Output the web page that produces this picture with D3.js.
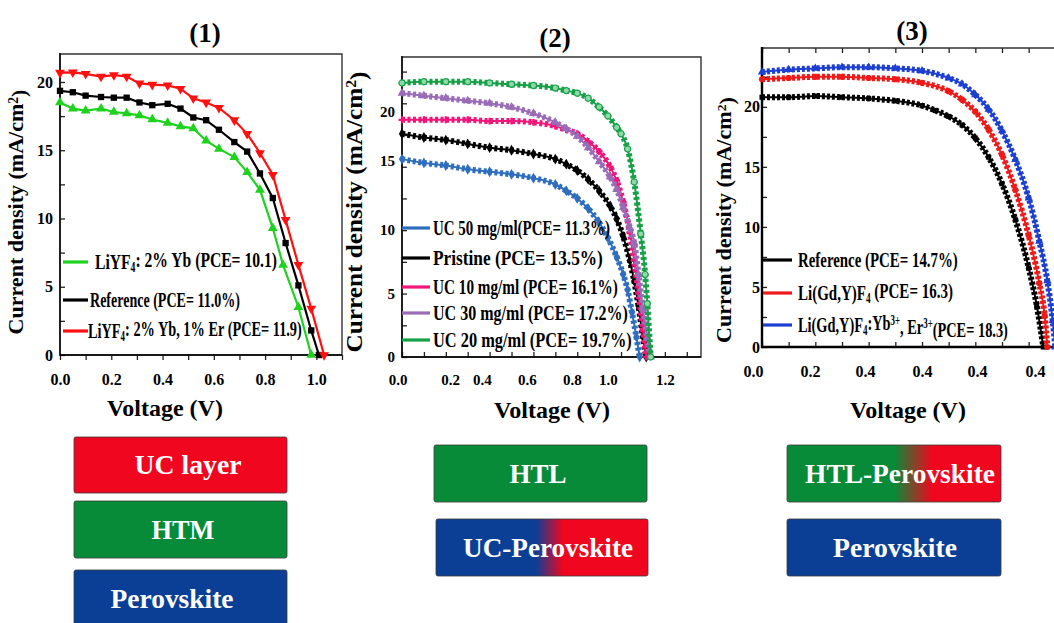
<!DOCTYPE html>
<html>
<head>
<meta charset="utf-8">
<style>
body { margin: 0; background: #fff; }
svg { display: block; }
svg text { font-family: "Liberation Serif", "Times New Roman", serif; font-weight: bold; }
</style>
</head>
<body>
<svg width="1054" height="623"></svg>
<script src="https://d3js.org/d3.v7.min.js"></script>
<script>

// ---------------- data (voltage V, current density mA/cm2) ----------------

// panel (1)
var p1Names = ["LiYF_{4}: 2% Yb (PCE= 10.1)", "Reference (PCE= 11.0%)", "LiYF_{4}: 2% Yb, 1% Er (PCE= 11.9)"];
var p1Yb = [[0,18.5],[0.05,18.05],[0.1,17.9],[0.16,18.05],[0.21,17.8],[0.26,17.7],[0.31,17.55],[0.36,17.25],[0.42,17.0],[0.47,16.75],[0.52,16.6],[0.57,15.7],[0.62,15.1],[0.68,14.5],[0.73,13.4],[0.78,12.1],[0.83,9.3],[0.87,6.6],[0.93,3.5],[0.98,0]];
var p1Ref = [[0,19.35],[0.05,19.25],[0.1,19.0],[0.16,18.9],[0.21,18.85],[0.26,18.85],[0.31,18.5],[0.36,18.3],[0.42,18.4],[0.47,18.05],[0.52,17.4],[0.57,17.2],[0.62,16.5],[0.68,15.6],[0.73,14.9],[0.78,13.3],[0.83,11.5],[0.88,8.2],[0.93,5.1],[0.98,1.8],[1.01,0]];
var p1YbEr = [[0,20.68],[0.05,20.7],[0.1,20.6],[0.16,20.4],[0.21,20.5],[0.26,20.4],[0.31,19.9],[0.36,19.8],[0.42,19.75],[0.47,19.5],[0.52,18.8],[0.57,18.5],[0.62,18.1],[0.68,17.2],[0.73,16.2],[0.78,14.8],[0.83,13.2],[0.88,9.9],[0.93,6.6],[0.98,3.4],[1.03,0]];
var p1XTicks = [0, 0.2, 0.4, 0.6, 0.8, 1.0];
var p1XLabels = ["0.0", "0.2", "0.4", "0.6", "0.8", "1.0"];
var p1YTicks = [0, 5, 10, 15, 20];
var p1YLabels = ["0", "5", "10", "15", "20"];

// panel (2)
var p2Names = ["UC 50 mg/ml(PCE= 11.3%)", "Pristine (PCE= 13.5%)", "UC 10 mg/ml (PCE= 16.1%)", "UC 30 mg/ml (PCE= 17.2%)", "UC 20 mg/ml (PCE= 19.7%)"];
var p2UC50 = [[0,15.6],[0.1,15.3],[0.2,15.1],[0.3,14.8],[0.4,14.6],[0.5,14.4],[0.6,14.1],[0.7,13.6],[0.75,13.1],[0.8,12.5],[0.85,11.7],[0.9,10.6],[0.94,9.4],[0.98,7.9],[1.01,6.5],[1.03,5.3],[1.05,3.5],[1.07,1.6],[1.085,0]];
var p2Pristine = [[0,17.6],[0.1,17.3],[0.2,17.1],[0.3,16.8],[0.4,16.5],[0.5,16.3],[0.6,16.0],[0.7,15.6],[0.75,15.2],[0.8,14.7],[0.85,14.0],[0.9,13.1],[0.95,11.9],[0.98,10.9],[1.01,9.5],[1.04,7.6],[1.06,6.0],[1.08,4.0],[1.1,1.6],[1.115,0]];
var p2UC10 = [[0,18.7],[0.1,18.7],[0.2,18.7],[0.3,18.7],[0.4,18.6],[0.5,18.6],[0.6,18.5],[0.7,18.2],[0.75,17.9],[0.8,17.6],[0.85,17.0],[0.9,16.2],[0.95,15.0],[0.98,13.9],[1.01,12.2],[1.04,9.8],[1.06,7.6],[1.08,5.0],[1.1,2.2],[1.115,0]];
var p2UC30 = [[0,20.8],[0.1,20.6],[0.2,20.4],[0.3,20.2],[0.4,20.0],[0.5,19.7],[0.6,19.2],[0.7,18.5],[0.75,18.0],[0.8,17.4],[0.85,16.5],[0.9,15.4],[0.95,14.2],[0.98,13.2],[1.01,11.8],[1.04,10.2],[1.06,9.0],[1.08,6.5],[1.1,3.8],[1.12,1.5],[1.135,0]];
var p2UC20 = [[0,21.6],[0.1,21.7],[0.2,21.7],[0.3,21.7],[0.4,21.6],[0.5,21.5],[0.6,21.4],[0.7,21.2],[0.75,21.0],[0.8,20.8],[0.85,20.4],[0.9,19.7],[0.94,19.0],[0.98,18.1],[1.0,17.6],[1.03,16.4],[1.06,13.8],[1.09,9.7],[1.11,6.5],[1.12,4.2],[1.135,0]];
// the printed tick labels in this panel do not sit at even steps
var p2XTicks = [-0.02, 0.22, 0.365, 0.57, 0.775, 0.94, 1.2];
var p2XLabels = ["0.0", "0.2", "0.4", "0.6", "0.8", "1.0", "1.2"];
var p2YTicks = [0, 5, 10, 15.5, 19.3];
var p2YLabels = ["0", "5", "10", "15", "20"];

// panel (3)
var p3Names = ["Reference (PCE= 14.7%)", "Li(Gd,Y)F_{4} (PCE= 16.3)", "Li(Gd,Y)F_{4}:Yb^{3+}, Er^{3+}(PCE= 18.3)"];
var p3Ref = [[0,20.8],[0.1,20.8],[0.2,20.9],[0.3,20.8],[0.4,20.7],[0.5,20.5],[0.6,20.1],[0.65,19.7],[0.7,19.2],[0.75,18.5],[0.8,17.4],[0.85,15.8],[0.9,13.6],[0.95,10.6],[1.0,6.6],[1.03,3.5],[1.055,0]];
var p3LGYF = [[0,22.3],[0.1,22.4],[0.2,22.5],[0.3,22.5],[0.4,22.4],[0.5,22.3],[0.6,22.0],[0.7,21.3],[0.75,20.6],[0.8,19.6],[0.85,18.1],[0.9,16.0],[0.95,13.1],[1.0,9.3],[1.04,5.3],[1.06,2.6],[1.07,0]];
var p3LGYFYbEr = [[0,22.9],[0.1,23.1],[0.2,23.2],[0.3,23.3],[0.4,23.3],[0.5,23.2],[0.6,23.0],[0.7,22.4],[0.75,21.9],[0.8,21.0],[0.85,19.8],[0.9,18.0],[0.95,15.6],[1.0,12.4],[1.04,8.8],[1.07,5.5],[1.09,2.2],[1.1,0]];
var p3XTicks = [-0.034, 0.18, 0.386, 0.6, 0.806, 1.024];
var p3XLabels = ["0.0", "0.2", "0.4", "0.4", "0.4", "0.4"];
var p3YTicks = [0, 5, 10, 15, 20];
var p3YLabels = ["0", "5", "10", "15", "20"];

// device stacks under each panel
var stackLabels = ["UC layer", "HTM", "Perovskite", "HTL", "UC-Perovskite", "HTL-Perovskite", "Perovskite"];

// ---------------- helpers ----------------
var svg = d3.select("svg");
var FONT = "'Liberation Serif', 'Times New Roman', serif";

var RED = "#f1061f", GREEN = "#078b38", BLUE = "#0b3f96";

var defs = svg.append("defs");
function grad(id, stops) {
  var lg = defs.append("linearGradient").attr("id", id).attr("x1", 0).attr("x2", 1).attr("y1", 0).attr("y2", 0);
  stops.forEach(function(s) { lg.append("stop").attr("offset", s[0]).attr("stop-color", s[1]); });
}
grad("blueRed", [[0, BLUE], [0.47, BLUE], [0.6, RED], [1, RED]]);
grad("greenRed", [[0, GREEN], [0.5, GREEN], [0.68, RED], [1, RED]]);

// write "a_{sub}" / "a^{sup}" as tspans
function rich(text, str) {
  var parts = str.split(/(_\{[^}]*\}|\^\{[^}]*\})/).filter(function(s) { return s.length; });
  var shift = 0;
  parts.forEach(function(p) {
    var t = text.append("tspan"), want = 0, s = p;
    if (p.indexOf("_{") === 0) { want = 0.22; s = p.slice(2, -1); t.attr("font-size", "62%"); }
    else if (p.indexOf("^{") === 0) { want = -0.4; s = p.slice(2, -1); t.attr("font-size", "62%"); }
    t.attr("dy", (want - shift) + "em").text(s);
    shift = want;
  });
  return text;
}

// squeeze a text horizontally so it spans the given width (condensed face in the figure)
function squeeze(text, target) {
  var w = text.node().getComputedTextLength();
  if (w > 0) text.attr("transform", (text.attr("transform") || "") + " scale(" + (target / w) + ",1)");
}

function plainAxis(a) {
  a.attr("font-family", FONT).attr("font-weight", "bold");
  a.select(".domain").remove();
}

function drawPanel(o) {
  var x = d3.scaleLinear().domain(o.xDomain).range(o.xRange);
  var y = d3.scaleLinear().domain(o.yDomain).range(o.yRange);
  var g = svg.append("g");
  var x0 = o.xRange[0], x1 = o.xRange[1], yb = o.yRange[0], yt = o.yRange[1];

  // minor tick marks
  g.append("g").attr("transform", "translate(0," + yb + ")")
    .call(d3.axisBottom(x).tickValues(o.xMinor).tickSize(o.xTickLen).tickFormat(""))
    .call(plainAxis);
  if (o.topTicks) {
    g.append("g").attr("transform", "translate(0," + yt + ")")
      .call(d3.axisTop(x).tickValues(o.xMinor).tickSize(-5).tickFormat(""))
      .call(plainAxis);
  }
  g.append("g").attr("transform", "translate(" + x0 + ",0)")
    .call(d3.axisLeft(y).tickValues(o.yMinor).tickSize(-5).tickFormat(""))
    .call(plainAxis);
  g.selectAll(".tick line").attr("stroke", "#222").attr("stroke-width", 1.3);

  // tick labels
  g.append("g").attr("transform", "translate(0," + yb + ")")
    .call(d3.axisBottom(x).tickValues(o.xTicks).tickSize(0).tickPadding(o.xPad)
      .tickFormat(function(d, i) { return o.xLabels[i]; }))
    .call(plainAxis)
    .selectAll("text").attr("font-size", o.tickFont).attr("fill", "#000").style("font-family", FONT);
  g.append("g").attr("transform", "translate(" + x0 + ",0)")
    .call(d3.axisLeft(y).tickValues(o.yTicks).tickSize(0).tickPadding(o.yPad)
      .tickFormat(function(d, i) { return o.yLabels[i]; }))
    .call(plainAxis)
    .selectAll("text").attr("font-size", o.tickFont).attr("fill", "#000").style("font-family", FONT);

  // frame
  g.append("path")
    .attr("d", "M" + x0 + "," + yt + "H" + x1 + "V" + yb + "H" + x0 + "Z")
    .attr("fill", "none").attr("stroke", "#333").attr("stroke-width", 1.4);
  g.append("path")
    .attr("d", "M" + x0 + "," + (yt - 1) + "V" + yb + "H" + x1)
    .attr("fill", "none").attr("stroke", "#000").attr("stroke-width", o.axisWidth);

  // series
  var line = d3.line().x(function(d) { return x(d[0]); }).y(function(d) { return y(d[1]); }).curve(o.curve);
  o.order.forEach(function(i) {
    var s = o.series[i], st = o.styles[i];
    if (o.band) {
      g.append("path").attr("d", line(s)).attr("fill", "none").attr("stroke", st.color)
        .attr("stroke-width", o.band[0]).attr("stroke-dasharray", o.band[1]);
    }
    g.append("path").attr("d", line(s)).attr("fill", "none").attr("stroke", st.color).attr("stroke-width", o.lineWidth);
    g.append("g").selectAll("path").data(s).enter().append("path")
      .attr("transform", function(d) { return "translate(" + x(d[0]) + "," + y(d[1]) + ")" + (st.flip ? " rotate(180)" : ""); })
      .attr("d", d3.symbol().type(st.symbol).size(st.size))
      .attr("fill", st.fill || st.color)
      .attr("stroke", st.color).attr("stroke-width", st.fill ? 1.2 : 0);
  });

  // legend
  o.names.forEach(function(n, i) {
    var ly = o.legend.y[i];
    g.append("line").attr("x1", o.legend.x0).attr("x2", o.legend.x1).attr("y1", ly).attr("y2", ly)
      .attr("stroke", o.styles[i].color).attr("stroke-width", 3.2);
    var t = g.append("text").attr("transform", "translate(" + o.legend.tx[i] + "," + (ly + 7) + ")")
      .style("font-size", o.legend.font + "px").attr("fill", "#000");
    rich(t, n);
    squeeze(t, o.legend.w[i]);
  });

  // axis titles
  var yl = g.append("text").attr("transform", "translate(" + o.yTitle[0] + "," + o.yTitle[1] + ") rotate(-90)")
    .attr("text-anchor", "middle").attr("dy", "0.35em").style("font-size", o.yTitle[3] + "px");
  rich(yl, "Current density (mA/cm^{2})");
  squeeze(yl, o.yTitle[2]);
  g.append("text").attr("x", o.xTitle[0]).attr("y", o.xTitle[1]).attr("text-anchor", "middle")
    .style("font-size", "24px").text("Voltage (V)");
  g.append("text").attr("x", o.title[0]).attr("y", o.title[1]).attr("text-anchor", "middle")
    .style("font-size", "27px").text(o.title[2]);
}

var sq = d3.symbolSquare, tri = d3.symbolTriangle, dia = d3.symbolDiamond, cir = d3.symbolCircle, crs = d3.symbolCross;

drawPanel({
  series: [p1Yb, p1Ref, p1YbEr], names: p1Names, order: [0, 1, 2],
  styles: [{color: "#1fd21f", symbol: tri, size: 42},
           {color: "#000", symbol: sq, size: 40},
           {color: "#ff1010", symbol: tri, size: 42, flip: true}],
  xDomain: [0, 1.1], xRange: [60, 342], yDomain: [0, 22.05], yRange: [355, 54],
  xMinor: d3.range(0, 1.11, 0.1), xTickLen: 5, yMinor: d3.range(0, 22, 2.5),
  xTicks: p1XTicks, xLabels: p1XLabels, yTicks: p1YTicks, yLabels: p1YLabels,
  xPad: 19, yPad: 7, tickFont: 16, axisWidth: 1.4, lineWidth: 2.2, curve: d3.curveLinear,
  legend: {x0: 63, x1: 88, tx: [95, 90, 88], y: [262, 300, 331], w: [182, 150, 214], font: 22},
  yTitle: [23, 212, 245, 22], xTitle: [165, 416], title: [205, 42, "(1)"]
});

drawPanel({
  series: [p2UC50, p2Pristine, p2UC10, p2UC30, p2UC20], names: p2Names, order: [0, 1, 2, 3, 4],
  styles: [{color: "#2f6ebd", symbol: dia, size: 34},
           {color: "#000", symbol: dia, size: 34},
           {color: "#f0167a", symbol: crs, size: 26},
           {color: "#9a6cb8", symbol: tri, size: 34},
           {color: "#16a047", symbol: cir, size: 30, fill: "#8fd8a8"}],
  xDomain: [0, 1.365], xRange: [402, 701], yDomain: [0, 23.65], yRange: [357, 57],
  xMinor: d3.range(0, 1.35, 0.1), xTickLen: -5, yMinor: d3.range(0, 23.5, 2.5),
  xTicks: p2XTicks, xLabels: p2XLabels, yTicks: p2YTicks, yLabels: p2YLabels,
  xPad: 17, yPad: 7, tickFont: 15, axisWidth: 1.4, lineWidth: 2, curve: d3.curveMonotoneX,
  band: [6, "3,2.5"],
  legend: {x0: 402, x1: 430, tx: [433, 433, 433, 433, 433], y: [228, 258, 287, 313, 340], w: [177, 170, 185, 195, 199], font: 22},
  yTitle: [362, 212, 281, 23], xTitle: [552, 418], title: [555, 47, "(2)"]
});

drawPanel({
  series: [p3Ref, p3LGYF, p3LGYFYbEr], names: p3Names, order: [0, 1, 2],
  styles: [{color: "#000", symbol: sq, size: 26},
           {color: "#ee1a1a", symbol: cir, size: 30},
           {color: "#1c3fd0", symbol: tri, size: 30}],
  xDomain: [0, 1.2], xRange: [762, 1082], yDomain: [0, 24.9], yRange: [347, 48],
  xMinor: d3.range(0, 1.2, 0.1), xTickLen: -5, yMinor: d3.range(0, 25, 2.5), topTicks: true,
  xTicks: p3XTicks, xLabels: p3XLabels, yTicks: p3YTicks, yLabels: p3YLabels,
  xPad: 19, yPad: 2, tickFont: 16, axisWidth: 2.4, lineWidth: 2, curve: d3.curveMonotoneX,
  band: [6, "3,2"],
  legend: {x0: 763, x1: 792, tx: [798, 798, 798], y: [260, 293, 325], w: [160, 155, 210], font: 22},
  yTitle: [731, 220, 246, 20], xTitle: [908, 418], title: [912, 40, "(3)"]
});

// ---------------- device stacks ----------------
var stackBoxes = [
  {x: 74, y: 437, w: 213, h: 56, fill: RED, tx: 188, tw: 107},
  {x: 74, y: 501, w: 213, h: 57, fill: GREEN, tx: 183, tw: 63},
  {x: 74, y: 570, w: 213, h: 57, fill: BLUE, tx: 172, tw: 123},
  {x: 434, y: 445, w: 213, h: 57, fill: GREEN, tx: 538, tw: 57},
  {x: 436, y: 519, w: 212, h: 57, fill: "url(#blueRed)", tx: 548, tw: 170},
  {x: 787, y: 445, w: 214, h: 57, fill: "url(#greenRed)", tx: 900, tw: 190},
  {x: 787, y: 519, w: 214, h: 57, fill: BLUE, tx: 895, tw: 124}
];
var stacks = svg.append("g").selectAll("g").data(stackBoxes).enter().append("g");
stacks.append("rect")
  .attr("x", function(d) { return d.x; }).attr("y", function(d) { return d.y; })
  .attr("width", function(d) { return d.w; }).attr("height", function(d) { return d.h; })
  .attr("rx", 2).attr("fill", function(d) { return d.fill; })
  .attr("stroke", "#3a3a3a").attr("stroke-width", 0.8);
stacks.each(function(d, i) {
  var t = d3.select(this).append("text")
    .attr("transform", "translate(" + d.tx + "," + (d.y + d.h / 2 + 9) + ")")
    .attr("text-anchor", "middle").style("font-size", "27px").attr("fill", "#fff")
    .text(stackLabels[i]);
  squeeze(t, d.tw);
});

</script>
</body>
</html>
